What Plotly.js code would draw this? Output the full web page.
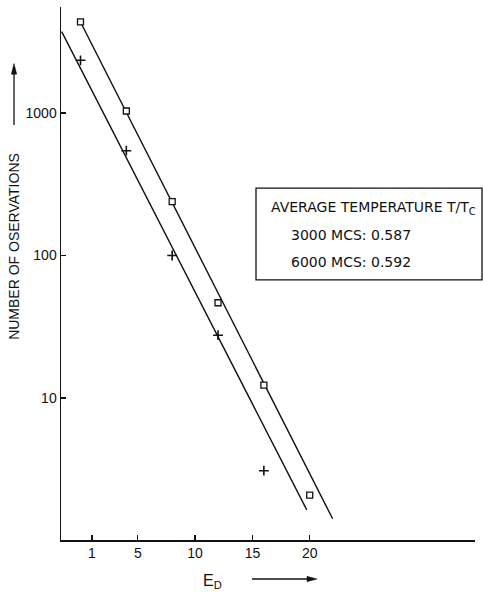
<!DOCTYPE html>
<html>
<head>
<meta charset="utf-8">
<script src="https://cdn.plot.ly/plotly-3.0.1.min.js"></script>
<style>html,body{margin:0;padding:0;background:#fff;}#chart{width:483px;height:592px;}</style>
</head>
<body>
<div id="chart"></div>
<script>
// Energy E_D of observations
const squareX = [0, 4, 8, 12, 16, 20];
const squareY = [4355, 1033, 239, 46.6, 12.3, 2.08];
const plusX = [0, 4, 8, 12, 16];
const plusY = [2344, 544, 100, 27.6, 3.09];
// fitted straight lines (end points)
const upperFitX = [0.1, 22.0];
const upperFitY = [4200, 1.42];
const lowerFitX = [-1.64, 19.74];
const lowerFitY = [3726, 1.64];
const xTickVals = [1, 5, 10, 15, 20];
const yTickVals = [10, 100, 1000];
const yTickText = ['10', '100', '1000'];
const boxLines = ['AVERAGE TEMPERATURE T/T<sub>C</sub>', '3000 MCS: 0.587', '6000 MCS: 0.592'];

const font = 'Liberation Sans, Arial, sans-serif';
const boxFont = 'DejaVu Sans, Liberation Sans, sans-serif';
const traces = [
  {x: upperFitX, y: upperFitY, mode: 'lines', line: {color: '#111', width: 1.4}, showlegend: false, hoverinfo: 'skip'},
  {x: lowerFitX, y: lowerFitY, mode: 'lines', line: {color: '#111', width: 1.4}, showlegend: false, hoverinfo: 'skip'},
  {x: squareX, y: squareY, mode: 'markers', name: '6000 MCS', showlegend: false,
   marker: {symbol: 'square', size: 6, color: '#fff', line: {color: '#111', width: 1.3}}},
  {x: plusX, y: plusY, mode: 'markers', name: '3000 MCS', showlegend: false,
   marker: {symbol: 'cross-thin-open', size: 7, color: '#111', line: {color: '#111', width: 1.6}}}
];

const ax = -0.1135, yA = -0.0732;
const layout = {
  width: 483, height: 592,
  margin: {l: 61, r: 8, t: 7, b: 52},
  paper_bgcolor: '#fff', plot_bgcolor: '#fff',
  font: {family: font, color: '#111', size: 13},
  xaxis: {range: [-1.70, 34.42], tickvals: xTickVals, ticks: 'inside', ticklen: 5, tickwidth: 1.3,
          tickcolor: '#111', showline: true, linecolor: '#111', linewidth: 1.5, showgrid: false,
          zeroline: false, tickfont: {size: 14, family: font}},
  yaxis: {type: 'log', range: [0.0035, 3.744], tickvals: yTickVals, ticktext: yTickText, ticks: 'inside',
          ticklen: 5, tickwidth: 1.3, tickcolor: '#111', showline: true, linecolor: '#111', linewidth: 1.5,
          showgrid: false, zeroline: false, tickfont: {size: 14, family: font}},
  shapes: [
    {type: 'rect', xref: 'paper', yref: 'paper', x0: 0.471, x1: 1.017, y0: 0.488, y1: 0.660,
     line: {color: '#111', width: 1.3}, fillcolor: 'rgba(0,0,0,0)'},
    // y-axis arrow
    {type: 'line', xref: 'paper', yref: 'paper', x0: ax, x1: ax, y0: 0.7786, y1: 0.880,
     line: {color: '#111', width: 1.3}},
    {type: 'path', xref: 'paper', yref: 'paper',
     path: `M ${ax},0.894 L ${ax - 0.0065},0.874 L ${ax + 0.0065},0.874 Z`,
     fillcolor: '#111', line: {color: '#111', width: 0.5}},
    // x-axis arrow
    {type: 'line', xref: 'paper', yref: 'paper', x0: 0.4614, x1: 0.598, y0: yA, y1: yA,
     line: {color: '#111', width: 1.3}},
    {type: 'path', xref: 'paper', yref: 'paper',
     path: `M 0.6184,${yA} L 0.5942,${yA + 0.005} L 0.5942,${yA - 0.005} Z`,
     fillcolor: '#111', line: {color: '#111', width: 0.5}}
  ],
  annotations: [
    {xref: 'paper', yref: 'paper', x: 0.502, y: 0.623, xanchor: 'left', yanchor: 'middle', showarrow: false,
     text: boxLines[0], font: {size: 14, family: boxFont}},
    {xref: 'paper', yref: 'paper', x: 0.551, y: 0.572, xanchor: 'left', yanchor: 'middle', showarrow: false,
     text: boxLines[1], font: {size: 14, family: boxFont}},
    {xref: 'paper', yref: 'paper', x: 0.551, y: 0.522, xanchor: 'left', yanchor: 'middle', showarrow: false,
     text: boxLines[2], font: {size: 14, family: boxFont}},
    {xref: 'paper', yref: 'paper', x: ax, y: 0.55, xanchor: 'center', yanchor: 'middle', showarrow: false,
     textangle: -90, text: 'NUMBER OF OSERVATIONS', font: {size: 14, family: font}},
    {xref: 'paper', yref: 'paper', x: 0.367, y: -0.078, xanchor: 'center', yanchor: 'middle', showarrow: false,
     text: 'E<sub>D</sub>', font: {size: 16, family: font}}
  ]
};
Plotly.newPlot('chart', traces, layout, {displayModeBar: false, staticPlot: true});
</script>
</body>
</html>
